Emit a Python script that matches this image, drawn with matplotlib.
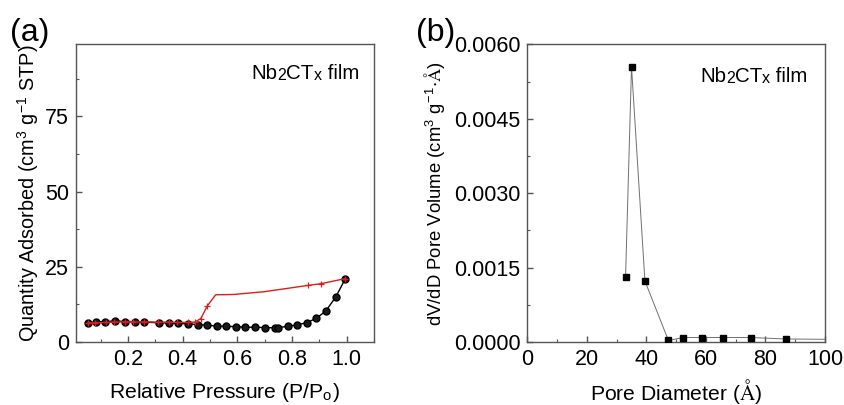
import matplotlib
matplotlib.use("Agg")
import matplotlib.pyplot as plt
from matplotlib.ticker import MultipleLocator, FormatStrFormatter

plt.rcParams["font.family"] = ["Liberation Sans", "DejaVu Sans"]
plt.rcParams["mathtext.fontset"] = "stix"

# ---- (a) N2 isotherm -------------------------------------------------------
ads_p = [0.053, 0.084, 0.118, 0.154, 0.189, 0.225, 0.259, 0.313, 0.350, 0.385,
         0.419, 0.455, 0.489, 0.525, 0.559, 0.595, 0.630, 0.666, 0.701, 0.737,
         0.749, 0.785, 0.819, 0.854, 0.890, 0.924, 0.960, 0.996]
ads_q = [6.2, 6.7, 6.8, 7.0, 6.8, 6.8, 6.6, 6.4, 6.3, 6.2,
         6.0, 5.8, 5.6, 5.3, 5.2, 5.1, 4.9, 4.9, 4.8, 4.7,
         4.8, 5.2, 5.7, 6.4, 7.9, 10.3, 14.9, 21.1]

des_p = [0.996, 0.907, 0.858, 0.697, 0.586, 0.521, 0.490, 0.467,
         0.445, 0.42, 0.38, 0.35, 0.31, 0.26, 0.22, 0.19, 0.15, 0.12, 0.08, 0.053]
des_q = [21.1, 19.4, 18.8, 16.7, 15.8, 15.7, 11.9, 7.8,
         6.6, 6.5, 6.5, 6.6, 6.6, 6.7, 6.7, 6.7, 6.6, 6.5, 6.4, 6.3]
des_marked = [0, 1, 2, 6, 7, 8, 9, 10, 11, 12, 13, 14, 15, 16, 17, 18, 19]

# ---- (b) pore size distribution -------------------------------------------
pore_d = [33.0, 35.0, 39.5, 47.4, 52.4, 58.6, 65.8, 75.1, 86.9, 110.0]
pore_v = [0.00131, 0.00555, 0.00123, 0.00003, 0.00009, 0.00009, 0.00009,
          0.00009, 0.00006, 0.00005]

SPINE = "#555555"
TICK_FS = 15.5
LABEL_FS = 15.2

fig = plt.figure(figsize=(8.44, 4.05), dpi=100)
ax1 = fig.add_axes([0.090, 0.1556, 0.353, 0.735])
ax2 = fig.add_axes([0.6248, 0.1556, 0.3527, 0.735])


def style(ax):
    for s in ax.spines.values():
        s.set_color(SPINE)
        s.set_linewidth(1.0)
    ax.tick_params(which="both", direction="in", colors=SPINE,
                   labelcolor="black", labelsize=TICK_FS,
                   top=False, right=False)
    ax.tick_params(which="major", length=4, width=1.0, pad=5)
    ax.tick_params(which="minor", length=2.5, width=0.8)


def sample_label(ax, x, y):
    parts = [("Nb", 14.8), ("2", 11.5), ("CT", 14.8), ("x", 11.5), (" film", 14.8)]
    t = ax.text(x, y, parts[0][0], transform=ax.transAxes, fontsize=parts[0][1],
                va="bottom", ha="left")
    for s, fs in parts[1:]:
        t = ax.annotate(s, xy=(1, 0), xycoords=t, fontsize=fs,
                        va="bottom", ha="left")


# (a)
ax1.plot(ads_p, ads_q, "-o", color="black", lw=1.0, ms=5,
         mfc="#1a1a1a", mec="black", zorder=3)
ax1.plot(des_p, des_q, "-+", color="#e01b1b", lw=1.0, ms=5, mew=0.9, zorder=4,
         markevery=des_marked)
ax1.set_xlim(0.01, 1.10)
ax1.set_ylim(0, 99)
ax1.xaxis.set_major_locator(MultipleLocator(0.2))
ax1.xaxis.set_minor_locator(MultipleLocator(0.1))
ax1.xaxis.set_major_formatter(FormatStrFormatter("%.1f"))
ax1.yaxis.set_major_locator(MultipleLocator(25))
ax1.yaxis.set_minor_locator(MultipleLocator(12.5))
style(ax1)
ax1.set_xticks([0.2, 0.4, 0.6, 0.8, 1.0])
ax1.set_xlabel(r"Relative Pressure (P/P$_\mathregular{o}$)", fontsize=LABEL_FS,
               labelpad=8)
ax1.set_ylabel(r"Quantity Adsorbed (cm$^\mathregular{3}$ g$^\mathregular{-1}$ STP)",
               fontsize=14.3, labelpad=3)
sample_label(ax1, 0.59, 0.87)

# (b)
ax2.plot(pore_d, pore_v, "-", color="#707070", lw=0.7, zorder=2)
ax2.plot(pore_d, pore_v, "s", color="black", ms=5, zorder=3)
ax2.set_xlim(0, 100)
ax2.set_ylim(0, 0.006)
ax2.xaxis.set_major_locator(MultipleLocator(20))
ax2.xaxis.set_minor_locator(MultipleLocator(10))
ax2.yaxis.set_major_locator(MultipleLocator(0.0015))
ax2.yaxis.set_minor_locator(MultipleLocator(0.00075))
ax2.yaxis.set_major_formatter(FormatStrFormatter("%.4f"))
style(ax2)
ax2.set_xlabel(r"Pore Diameter ($\mathrm{\AA}$)", fontsize=LABEL_FS, labelpad=5)
ax2.set_ylabel(r"dV/dD Pore Volume (cm$^\mathregular{3}$ g$^\mathregular{-1}$$\cdot\mathrm{\AA}$)",
               fontsize=13.3, labelpad=5)
sample_label(ax2, 0.58, 0.86)

fig.text(0.012, 0.918, "(a)", fontsize=23, va="center", ha="left")
fig.text(0.493, 0.918, "(b)", fontsize=23, va="center", ha="left")

fig.savefig("out.png", dpi=100)
